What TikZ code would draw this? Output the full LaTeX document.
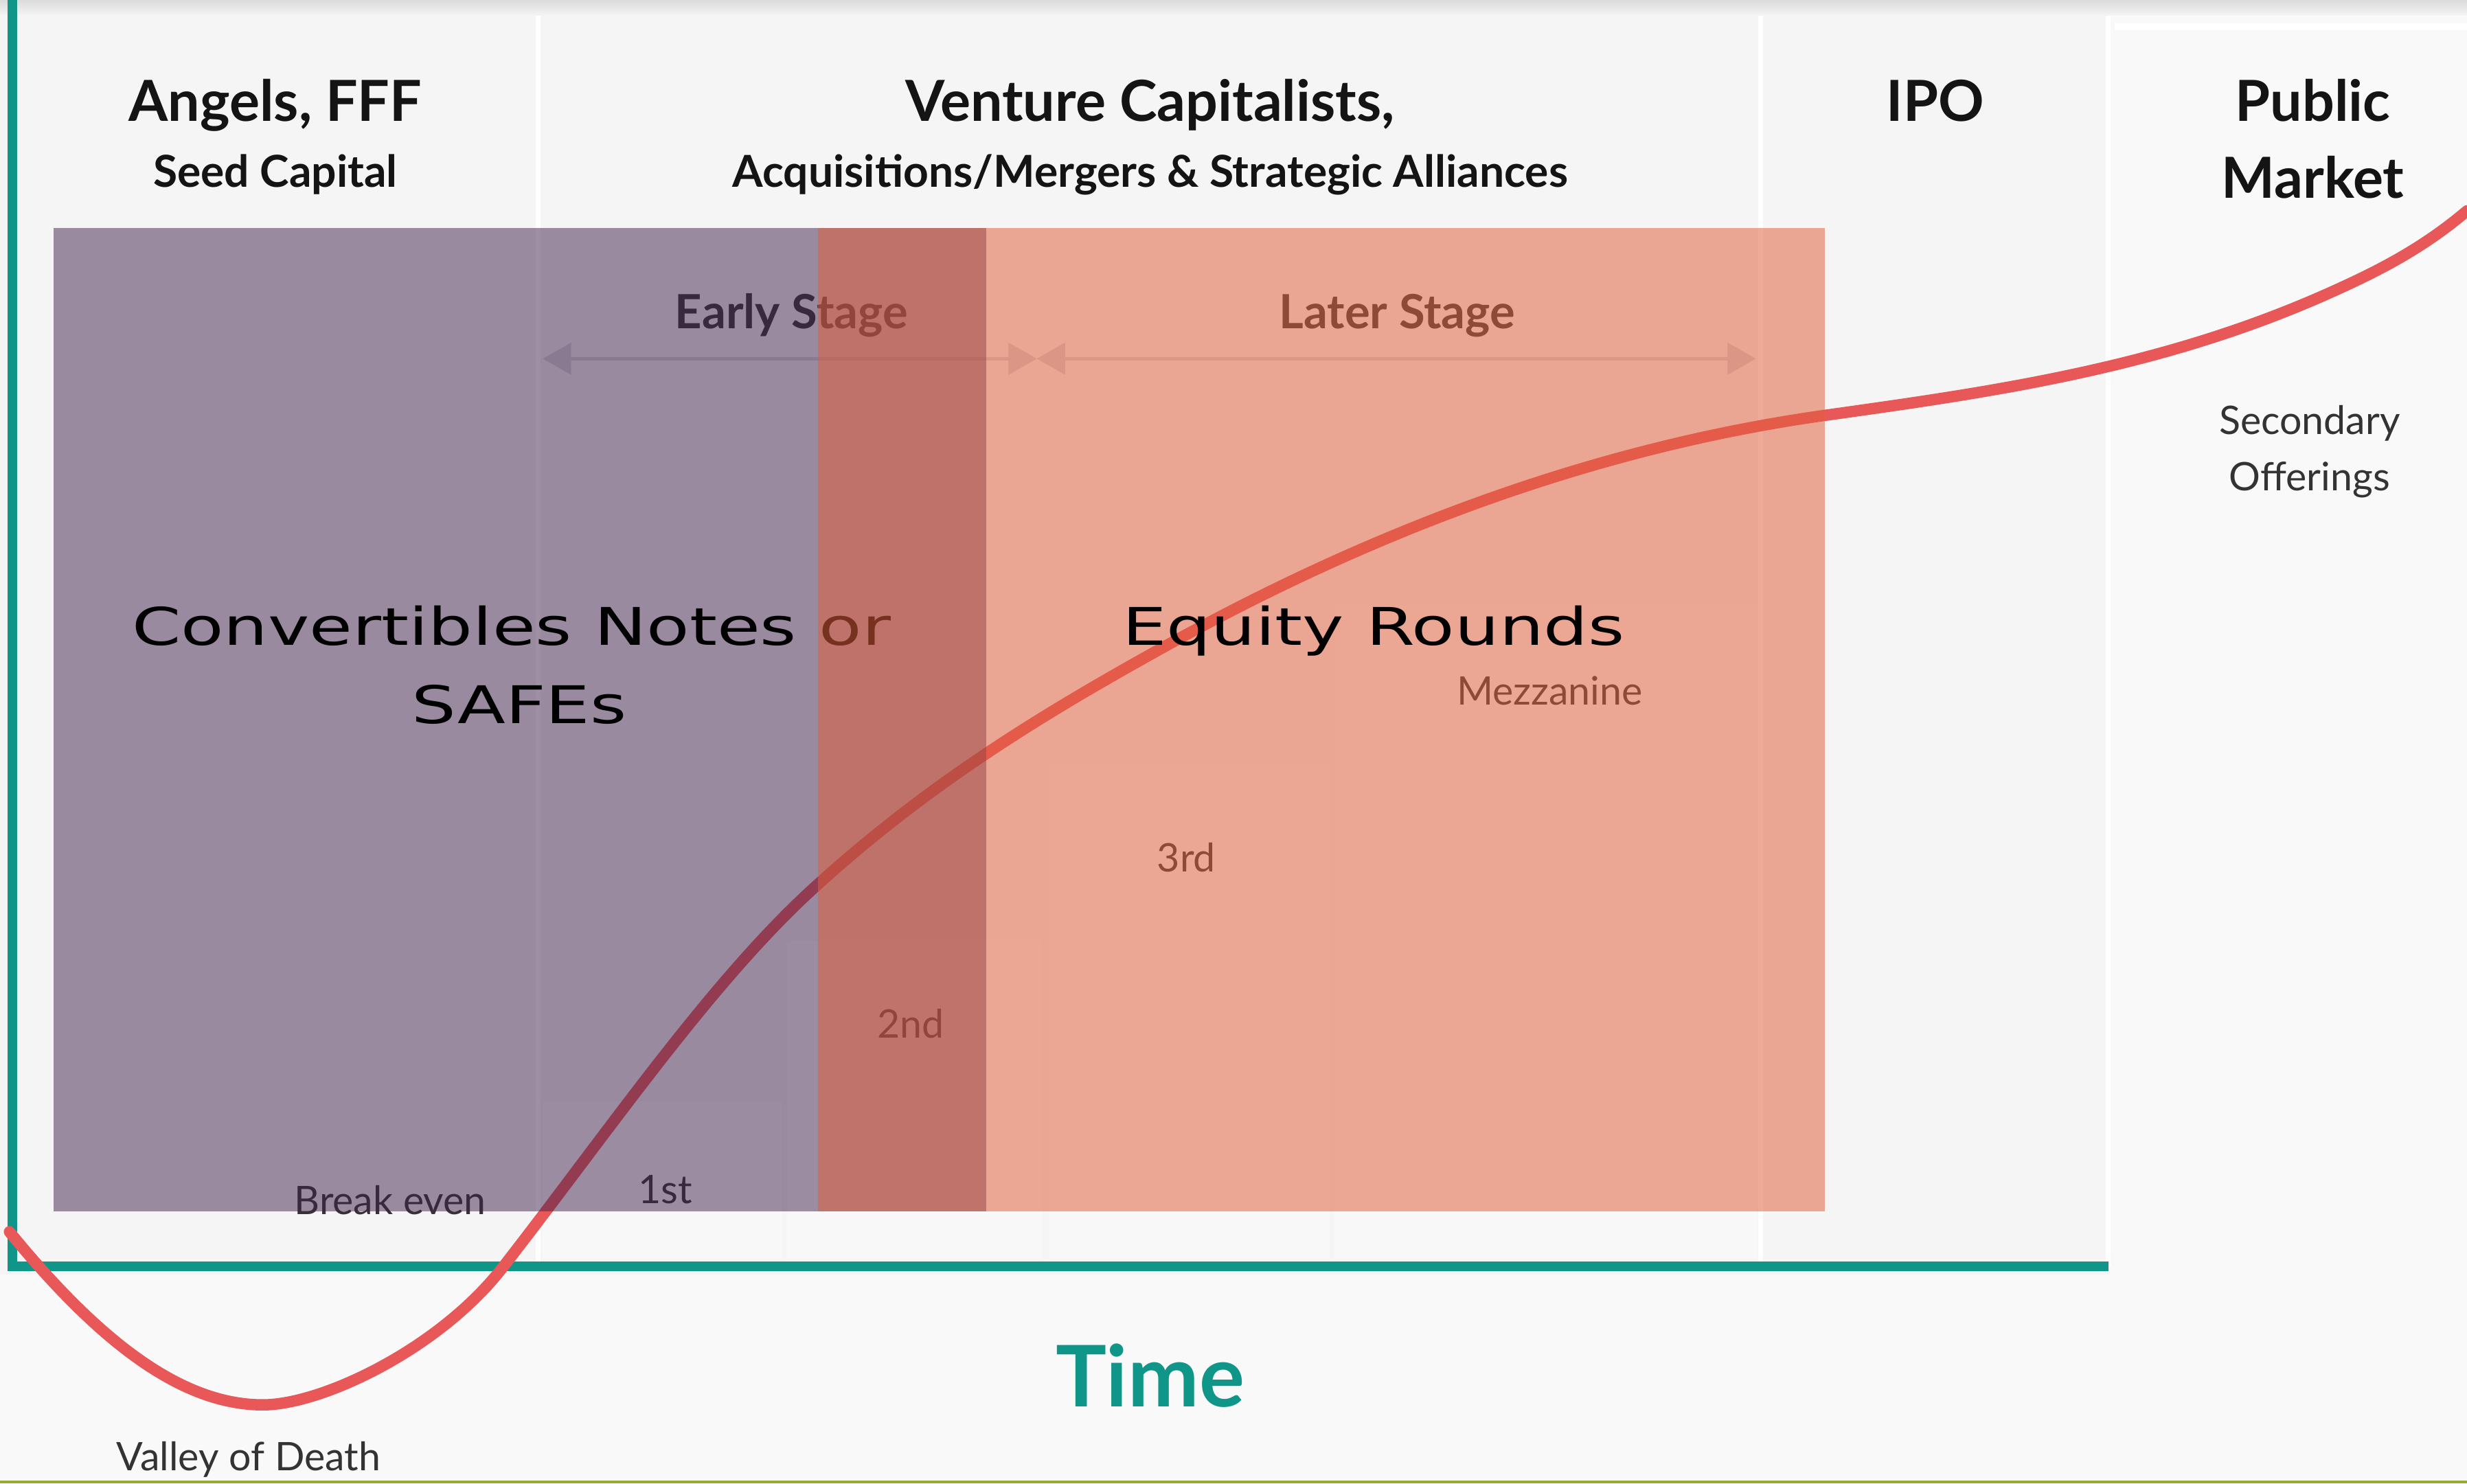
\documentclass[tikz,border=0pt]{standalone}
\usepackage{fontspec}
\setmainfont{Lato}
\newfontfamily\widefont[FakeStretch=1.35]{DejaVu Sans}
\usetikzlibrary{arrows.meta}
\definecolor{bggray}{RGB}{245,245,245}
\definecolor{axisteal}{RGB}{16,150,136}
\definecolor{curvered}{RGB}{232,88,88}
\definecolor{notepurple}{RGB}{63,33,75}
\definecolor{equityorange}{RGB}{226,94,60}
\definecolor{labelgray}{RGB}{51,51,51}
\definecolor{arrowgray}{RGB}{213,213,219}
\definecolor{olivebar}{RGB}{150,170,50}

\begin{document}
\begin{tikzpicture}[x=0.5pt,y=-0.5pt,
  headtext/.style={anchor=base,text=black!92,font=\fontsize{18}{20}\selectfont\bfseries},
  subheadtext/.style={anchor=base,text=black!92,font=\fontsize{14}{16}\selectfont\bfseries},
  stagetext/.style={anchor=base,text=labelgray,font=\fontsize{15}{17}\selectfont\bfseries},
  roundtext/.style={anchor=base,text=labelgray,font=\fontsize{12.5}{14}\selectfont},
  widetext/.style={anchor=base,text=black,font=\widefont\fontsize{16.5}{20}\selectfont},
  stagearrow/.style={arrowgray,line width=1pt,{Triangle[width=10pt,length=9pt]}-{Triangle[width=10pt,length=9pt]}},
  stairbox/.style={fill=white,fill opacity=0.3},
]
\useasboundingbox (0,0) rectangle (1568,943);
\fill[bggray] (0,0) rectangle (1568,943);
\fill[white,opacity=0.4] (1340,0) rectangle (1568,943);
\fill[white,opacity=0.4] (0,810) rectangle (1340,943);
\shade[top color=black!14,bottom color=bggray] (0,0) rectangle (1568,10);
\fill[white] (1344,15) rectangle (1568,19);
\foreach \x in {342,1119,1340} {
  \draw[white,line width=1.5pt] (\x,10) -- (\x,805);
}
\foreach \xa/\ya/\xb in {345/700/497,500/598/662,667/486/845,848/385/1117} {
  \fill[stairbox] (\xa,\ya) rectangle (\xb,800);
}
\fill[olivebar] (0,941) rectangle (1568,943);

\draw[axisteal,line width=3pt] (8,0) -- (8,805) -- (1340,805);
\draw[curvered,line width=3.6pt,line cap=round] (6,783)
  .. controls (60,849) and (113,893) .. (167,893)
  .. controls (205,893) and (280,857) .. (320,805)
  .. controls (387,719) and (453,622) .. (520,562)
  .. controls (594,495) and (668,451) .. (742,410)
  .. controls (881,333) and (1021,283.5) .. (1160,264)
  .. controls (1267,249) and (1374,234) .. (1481,186)
  .. controls (1510,173) and (1539,158.6) .. (1568,134);

\coordinate (early-l) at (345,228);
\coordinate (stage-mid) at (659,228);
\coordinate (later-r) at (1116,228);
\draw[stagearrow] (early-l) -- (stage-mid);
\draw[stagearrow] (stage-mid) -- (later-r);
\node[stagetext] (early) at (503,209) {Early Stage};
\node[stagetext] (later) at (888,209) {Later Stage};
\node[roundtext] (mezz) at (985,448) {Mezzanine};
\node[roundtext] (third) at (754,554) {3rd};
\node[roundtext] (second) at (579,660) {2nd};
\node[roundtext] (first) at (423,765) {1st};
\node[roundtext] (breakeven) at (248,772) {Break even};

\fill[notepurple,opacity=0.5] (34,145) rectangle (627,770);
\node[widetext] (conv) at (325,410) {Convertibles Notes or};
\node[widetext] (safes) at (330,460) {SAFEs};
\fill[equityorange,opacity=0.53] (520,145) rectangle (1160,770);
\node[widetext] (equity) at (873,410) {Equity Rounds};

\node[headtext] (angels) at (175,77) {Angels, FFF};
\node[subheadtext] (seed) at (175,119) {Seed Capital};
\node[headtext] (vc) at (731,77) {Venture Capitalists,};
\node[subheadtext] (acq) at (731,119) {Acquisitions/Mergers \& Strategic Alliances};
\node[headtext] (ipo) at (1230,77) {IPO};
\node[headtext] (public) at (1470,77) {Public};
\node[headtext] (market) at (1470,126) {Market};
\node[roundtext] (secondary) at (1468,276) {Secondary};
\node[roundtext] (offerings) at (1468,312) {Offerings};
\node[roundtext] (valley) at (158,935) {Valley of Death};
\node[anchor=base,text=axisteal,font=\fontsize{27}{30}\selectfont\bfseries] (time) at (731,894) {Time};
\end{tikzpicture}
\end{document}
